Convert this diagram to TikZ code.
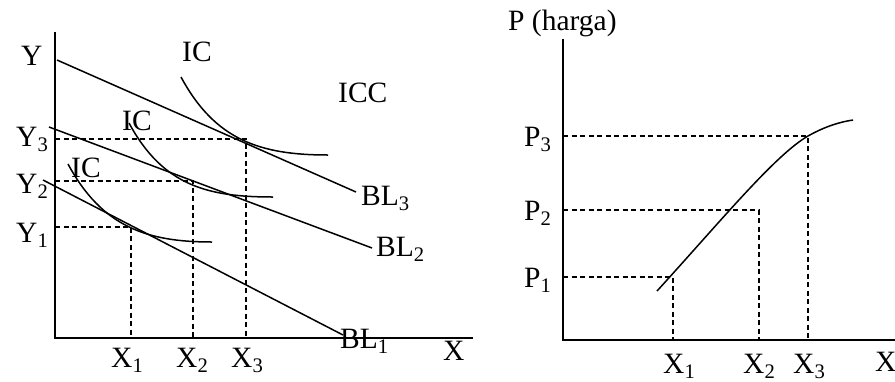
\documentclass[tikz,border=0pt]{standalone}
\usepackage{fontspec}
\setmainfont{Liberation Serif}
\begin{document}
\begin{tikzpicture}[x=1pt,y=-1pt,
  lbl/.style={anchor=base west,inner sep=0pt,font=\fontsize{29.5}{33}\selectfont},
  axis/.style={line width=1.6pt},
  curve/.style={line width=1.5pt},
  guide/.style={line width=1.4pt,dash pattern=on 5pt off 3.5pt}]
\useasboundingbox (0,0) rectangle (895,381);
% ---------- left panel ----------
\coordinate (lO) at (55,338);
\coordinate (lYt) at (55,32);
\coordinate (lXr) at (473,338);
\draw[axis] (lYt) -- (lO) -- (lXr);
% budget lines
\coordinate (b3s) at (57,60);   \coordinate (b3e) at (356,192);
\coordinate (b2s) at (49,127);  \coordinate (b2e) at (372,248);
\coordinate (b1s) at (43,180);  \coordinate (b1e) at (343,335);
\draw[curve] (b3s) -- (b3e);
\draw[curve] (b2s) -- (b2e);
\draw[curve] (b1s) -- (b1e);
% tangency points
\coordinate (e3) at (246,139);
\coordinate (e2) at (193,181);
\coordinate (e1) at (131,227);
\coordinate (y3) at (55,139); \coordinate (x3) at (246,338);
\coordinate (y2) at (55,181); \coordinate (x2) at (193,338);
\coordinate (y1) at (55,227); \coordinate (x1) at (131,338);
\draw[guide] (y3) -- (e3) -- (x3);
\draw[guide] (y2) -- (e2) -- (x2);
\draw[guide] (y1) -- (e1) -- (x1);
% indifference curves
\coordinate (i3s) at (181,77);  \coordinate (i3e) at (328,155);
\coordinate (i2s) at (129,123); \coordinate (i2e) at (273,197);
\coordinate (i1s) at (68,164);  \coordinate (i1e) at (212,242);
\draw[curve] (i3s) .. controls (215,140) and (260,155) .. (i3e);
\draw[curve] (i2s) .. controls (163,186) and (208,197) .. (i2e);
\draw[curve] (i1s) .. controls (102,227) and (147,242) .. (i1e);
% labels
\node[lbl] (tY)  at (21,65)  {Y};
\node[lbl] (tY3) at (16,146) {Y\textsubscript{3}};
\node[lbl] (tY2) at (16,193) {Y\textsubscript{2}};
\node[lbl] (tY1) at (16,242) {Y\textsubscript{1}};
\node[lbl] (tIC3) at (182,61) {IC};
\node[lbl] (tIC2) at (122,130) {IC};
\node[lbl] (tIC1) at (71,177) {IC};
\node[lbl] (tICC) at (338,102) {ICC};
\node[lbl] (tBL3) at (361,205) {BL\textsubscript{3}};
\node[lbl] (tBL2) at (376,256) {BL\textsubscript{2}};
\node[lbl] (tBL1) at (340,348) {BL\textsubscript{1}};
\node[lbl] (tX1) at (111,367) {X\textsubscript{1}};
\node[lbl] (tX2) at (176,367) {X\textsubscript{2}};
\node[lbl] (tX3) at (231,367) {X\textsubscript{3}};
\node[lbl] (tX)  at (443,360) {X};
% ---------- right panel ----------
\coordinate (rO) at (563,340);
\coordinate (rYt) at (563,39);
\coordinate (rXr) at (895,340);
\draw[axis] (rYt) -- (rO) -- (rXr);
\coordinate (p3) at (563,136); \coordinate (q3) at (808,136); \coordinate (u3) at (808,340);
\coordinate (p2) at (563,210); \coordinate (q2) at (759,210); \coordinate (u2) at (759,340);
\coordinate (p1) at (563,277); \coordinate (q1) at (673,277); \coordinate (u1) at (673,340);
\draw[guide] (p3) -- (q3) -- (u3);
\draw[guide] (p2) -- (q2) -- (u2);
\draw[guide] (p1) -- (q1) -- (u1);
\coordinate (cs) at (657,291);
\coordinate (ce) at (853,120);
\draw[curve] (cs) .. controls (720,222) and (775,155) .. (q3)
                  .. controls (826,126) and (840,122) .. (ce);
\node[lbl] (tP)  at (508,30)  {P (harga)};
\node[lbl] (tP3) at (524,146) {P\textsubscript{3}};
\node[lbl] (tP2) at (524,220) {P\textsubscript{2}};
\node[lbl] (tP1) at (524,287) {P\textsubscript{1}};
\node[lbl] (tRX1) at (663,373) {X\textsubscript{1}};
\node[lbl] (tRX2) at (743,373) {X\textsubscript{2}};
\node[lbl] (tRX3) at (793,373) {X\textsubscript{3}};
\node[lbl] (tRX)  at (875,371) {X};
\end{tikzpicture}
\end{document}
